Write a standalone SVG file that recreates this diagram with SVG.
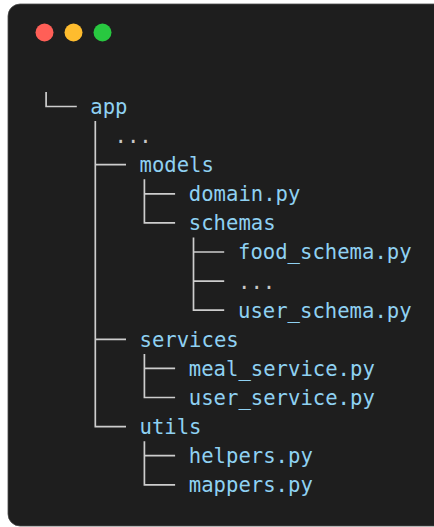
<svg xmlns="http://www.w3.org/2000/svg" width="434" height="527" viewBox="0 0 434 527">
  <style>
    .t { font-family: "DejaVu Sans Mono", "Liberation Mono", monospace; font-size: 20.6px; fill: #8fd1f2; }
    .d { font-family: "DejaVu Sans Mono", "Liberation Mono", monospace; font-size: 20.6px; fill: #c8c8c8; }
    .ln { fill: none; stroke: #cdcdcd; stroke-width: 1.7; }
  </style>
  <rect x="0" y="0" width="434" height="527" fill="#ffffff"/>
  <rect x="8" y="4" width="440" height="522" rx="12" fill="#1e1e1e" stroke="#4a4a4a" stroke-width="0.8"/>
  <g id="window-buttons">
    <circle cx="44.5" cy="32.5" r="9" fill="#ff5f57"/>
    <circle cx="73.5" cy="32.5" r="9" fill="#febc2e"/>
    <circle cx="102.5" cy="32.5" r="9" fill="#28c840"/>
  </g>
  <g id="connectors">
    <path class="ln" d="M46.1 92 V106.5 H76.8"/>
    <path class="ln" d="M95.3 121 V426.6 H126 M95.3 164.7 H126 M95.3 339.3 H126"/>
    <path class="ln" d="M144.4 179.3 V222.9 H175.1 M144.4 193.8 H175.1"/>
    <path class="ln" d="M193.5 237.5 V310.2 H224.2 M193.5 252 H224.2 M193.5 281.1 H224.2"/>
    <path class="ln" d="M144.4 353.9 V397.5 H175.1 M144.4 368.4 H175.1"/>
    <path class="ln" d="M144.4 441.2 V484.8 H175.1 M144.4 455.7 H175.1"/>
  </g>
  <g id="app"><text class="t" x="90.3" y="113.9">app</text></g>
  <g id="ellipsis-app"><text class="d" x="114.5" y="143">...</text></g>
  <g id="models"><text class="t" x="139.5" y="172.1">models</text></g>
  <g id="domain"><text class="t" x="188.8" y="201.2">domain.py</text></g>
  <g id="schemas"><text class="t" x="188.8" y="230.3">schemas</text></g>
  <g id="food_schema"><text class="t" x="238" y="259.4">food_schema.py</text></g>
  <g id="ellipsis-schemas"><text class="d" x="238" y="288.5">...</text></g>
  <g id="user_schema"><text class="t" x="238" y="317.6">user_schema.py</text></g>
  <g id="services"><text class="t" x="139.5" y="346.7">services</text></g>
  <g id="meal_service"><text class="t" x="188.8" y="375.8">meal_service.py</text></g>
  <g id="user_service"><text class="t" x="188.8" y="404.9">user_service.py</text></g>
  <g id="utils"><text class="t" x="139.5" y="434">utils</text></g>
  <g id="helpers"><text class="t" x="188.8" y="463.1">helpers.py</text></g>
  <g id="mappers"><text class="t" x="188.8" y="492.2">mappers.py</text></g>
</svg>
